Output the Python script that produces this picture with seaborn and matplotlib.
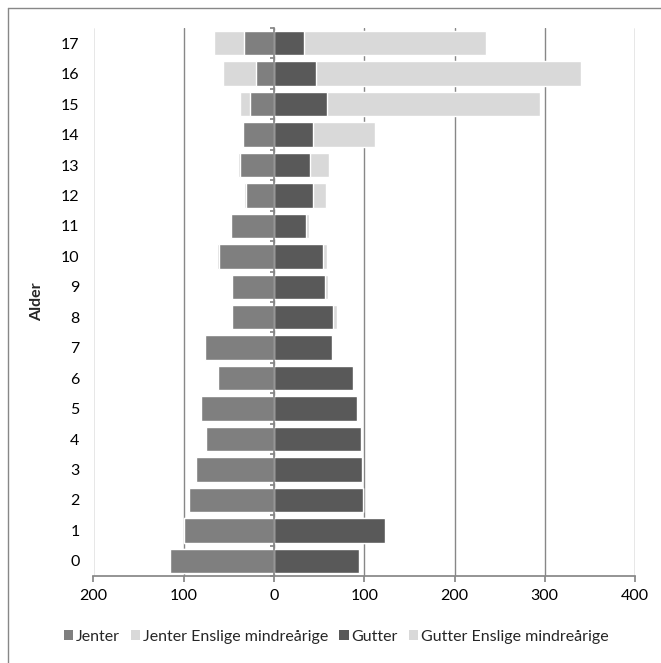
import numpy as np
import pandas as pd
import matplotlib
matplotlib.use("Agg")
import matplotlib.pyplot as plt
import matplotlib.patches as mpatches
import seaborn as sns

# --- Data ---
ages = list(range(18))
jenter = [115, 100, 94, 86, 75, 81, 62, 76, 46, 47, 61, 48, 31, 38, 34, 27, 20, 33]
jenter_em = [0, 0, 1, 0, 0, 0, 0, 0, 0, 0, 2, 0, 2, 2, 2, 11, 37, 34]
gutter = [94, 123, 99, 98, 96, 92, 87, 64, 65, 57, 54, 36, 43, 40, 43, 59, 47, 33]
gutter_em = [0, 0, 0, 0, 0, 1, 1, 0, 5, 3, 5, 3, 15, 21, 69, 236, 293, 202]

labels = ["Jenter", "Jenter Enslige mindreårige", "Gutter", "Gutter Enslige mindreårige"]
colors = ["#7f7f7f", "#d9d9d9", "#595959", "#d9d9d9"]

df = pd.DataFrame({
    "Alder": [str(a) for a in ages],
    "jenter": -np.array(jenter),
    "jenter_tot": -(np.array(jenter) + np.array(jenter_em)),
    "gutter": np.array(gutter),
    "gutter_tot": np.array(gutter) + np.array(gutter_em),
})
order = [str(a) for a in reversed(ages)]

sns.set_theme(style="white")
plt.rcParams["font.family"] = ["Lato", "DejaVu Sans"]
FS = 11.5

fig = plt.figure(figsize=(6.61, 6.63), dpi=100)
ax = fig.add_axes([93.5 / 661, 1 - 576 / 663, (635 - 93.5) / 661, (576 - 28) / 663])

# stacked: totals (light) first, then base series on top
sns.barplot(data=df, x="jenter_tot", y="Alder", order=order, orient="h", color=colors[1],
            width=0.8, saturation=1, ax=ax, zorder=2)
sns.barplot(data=df, x="gutter_tot", y="Alder", order=order, orient="h", color=colors[3],
            width=0.8, saturation=1, ax=ax, zorder=2)
sns.barplot(data=df, x="jenter", y="Alder", order=order, orient="h", color=colors[0],
            width=0.8, saturation=1, ax=ax, zorder=3)
sns.barplot(data=df, x="gutter", y="Alder", order=order, orient="h", color=colors[2],
            width=0.8, saturation=1, ax=ax, zorder=3)

ax.set_xlim(-200, 400)
ax.set_ylim(17.5, -0.5)
ax.set_xticks([-200, -100, 0, 100, 200, 300, 400])
ax.set_xticklabels(["200", "100", "0", "100", "200", "300", "400"])
ax.grid(axis="x", color="#878787", linewidth=1.0, zorder=0)
ax.set_axisbelow(True)
for s in ["top", "right", "left"]:
    ax.spines[s].set_visible(False)
ax.spines["bottom"].set_color("#878787")
ax.tick_params(axis="x", bottom=True, length=4, color="#878787", labelsize=FS, pad=5, labelcolor="black")
ax.tick_params(axis="y", left=False, length=0, labelsize=FS, pad=10, labelcolor="black")
ax.set_xlabel("")
ax.set_ylabel("Alder", fontsize=FS, fontweight="bold", labelpad=12)

# vertical axis at zero with small category ticks
ax2 = ax.twinx()
ax2.set_ylim(17.5, -0.5)
for s in ["top", "right", "bottom"]:
    ax2.spines[s].set_visible(False)
ax2.spines["left"].set_visible(True)
ax2.spines["left"].set_position(("data", 0))
ax2.spines["left"].set_color("#878787")
ax2.spines["left"].set_zorder(5)
ax2.yaxis.set_ticks_position("left")
ax2.set_yticks(np.arange(-0.5, 18, 1))
ax2.set_yticklabels([])
ax2.tick_params(axis="y", length=3, color="#878787", direction="out")
ax2.grid(False)

handles = [mpatches.Patch(facecolor=c, edgecolor="none", label=l) for c, l in zip(colors, labels)]
fig.legend(handles=handles, loc="center", bbox_to_anchor=(336 / 661, 1 - 637 / 663), ncol=4, frameon=False,
           fontsize=FS, handlelength=0.6, handleheight=0.6, handletextpad=0.15, columnspacing=0.7)

# chart area border (left and top visible)
fig.add_artist(plt.Line2D([7.5 / 661, 7.5 / 661], [0, 1 - 8 / 663], transform=fig.transFigure,
                          color="#878787", linewidth=1.0))
fig.add_artist(plt.Line2D([7.5 / 661, 1], [1 - 8 / 663, 1 - 8 / 663], transform=fig.transFigure,
                          color="#878787", linewidth=1.0))

fig.savefig("out.png", dpi=100)
